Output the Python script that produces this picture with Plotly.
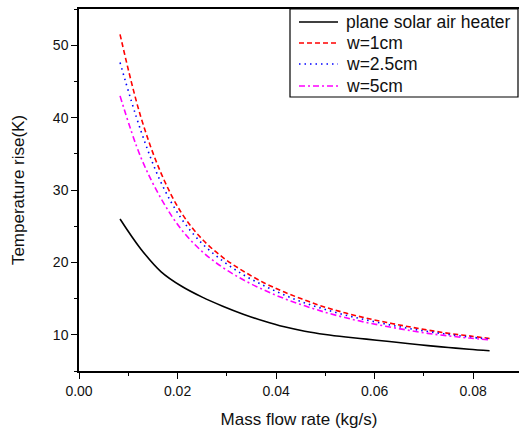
import plotly.graph_objects as go

mass_flow = [0.00833, 0.0125, 0.01667, 0.02083, 0.025, 0.02917, 0.03333, 0.0375, 0.04167,
             0.04583, 0.05, 0.05417, 0.05833, 0.0625, 0.06667, 0.07083, 0.075, 0.07917, 0.08333]

plane = [26.0, 21.9, 18.7, 16.7, 15.2, 13.95, 12.85, 11.9, 11.1, 10.5, 10.05, 9.7, 9.4, 9.1,
         8.8, 8.5, 8.25, 8.0, 7.8]
w1cm = [51.5, 40.2, 32.3, 26.8, 23.2, 20.7, 18.8, 17.2, 15.9, 14.8, 13.8, 13.0, 12.3, 11.7,
        11.15, 10.65, 10.2, 9.85, 9.5]
w25cm = [47.6, 38.3, 31.0, 26.0, 22.6, 20.2, 18.3, 16.8, 15.5, 14.4, 13.5, 12.7, 12.05, 11.45,
         10.9, 10.45, 10.05, 9.7, 9.4]
w5cm = [43.0, 34.6, 28.8, 24.5, 21.5, 19.3, 17.6, 16.2, 15.0, 14.0, 13.1, 12.35, 11.7, 11.15,
        10.65, 10.2, 9.85, 9.55, 9.3]

names = ["plane solar air heater", "w=1cm", "w=2.5cm", "w=5cm"]
colors = ["#000000", "#FF0000", "#0000FF", "#FF00FF"]
dashes = ["solid", "5px,3px", "1.5px,4px", "6px,3px,2px,3px"]
series = [plane, w1cm, w25cm, w5cm]

font = "Liberation Sans, Arial, sans-serif"

fig = go.Figure()
for name, ys, c, d in zip(names, series, colors, dashes):
    fig.add_trace(go.Scatter(x=mass_flow, y=ys, mode="lines", name=name, showlegend=False,
                             line=dict(color=c, width=1.6, dash=d, shape="spline", smoothing=1.0)))

# Legend drawn in paper coordinates (box framed at top-right of plot area)
W, H, L, T, B = 519, 430, 79, 9, 59
pw, ph = W - L, H - T - B


def px(x):
    return (x - L) / pw


def py(y):
    return (H - B - y) / ph


fig.add_shape(type="rect", xref="paper", yref="paper",
              x0=px(290), x1=px(518), y0=py(97), y1=py(9),
              line=dict(color="black", width=1.2), fillcolor="white", layer="above")
row_y = [22, 43, 64, 86]
for name, c, d, ry in zip(names, colors, dashes, row_y):
    fig.add_shape(type="line", xref="paper", yref="paper",
                  x0=px(299), x1=px(338), y0=py(ry), y1=py(ry),
                  line=dict(color=c, width=1.6, dash=d), layer="above")
    fig.add_annotation(xref="paper", yref="paper", x=px(344), y=py(ry),
                       xanchor="left", yanchor="middle", text=name, showarrow=False,
                       font=dict(size=17.5, family=font, color="#111111"))

fig.update_layout(
    width=W, height=H,
    margin=dict(l=L, r=0, t=T, b=B),
    plot_bgcolor="white", paper_bgcolor="white",
    font=dict(family=font, size=14, color="#111111"),
    xaxis=dict(range=[0, 0.0893], dtick=0.02, tick0=0, tickformat=".2f",
               showgrid=False, zeroline=False, showline=True, linecolor="black",
               linewidth=1.5, mirror=True, ticks="outside", ticklen=6, tickwidth=1.3,
               tickcolor="black",
               minor=dict(dtick=0.01, ticks="outside", ticklen=3, tickcolor="black", tickwidth=1.2),
               title=dict(text="Mass flow rate (kg/s)", font=dict(size=17), standoff=16)),
    yaxis=dict(range=[5, 55], dtick=10, tick0=10,
               showgrid=False, zeroline=False, showline=True, linecolor="black",
               linewidth=1.5, ticks="outside", ticklen=6, tickwidth=1.3, tickcolor="black",
               minor=dict(dtick=5, ticks="outside", ticklen=3, tickcolor="black", tickwidth=1.2),
               title=dict(text="Temperature rise(K)", font=dict(size=17), standoff=24)),
)

fig.write_html("out.html")
